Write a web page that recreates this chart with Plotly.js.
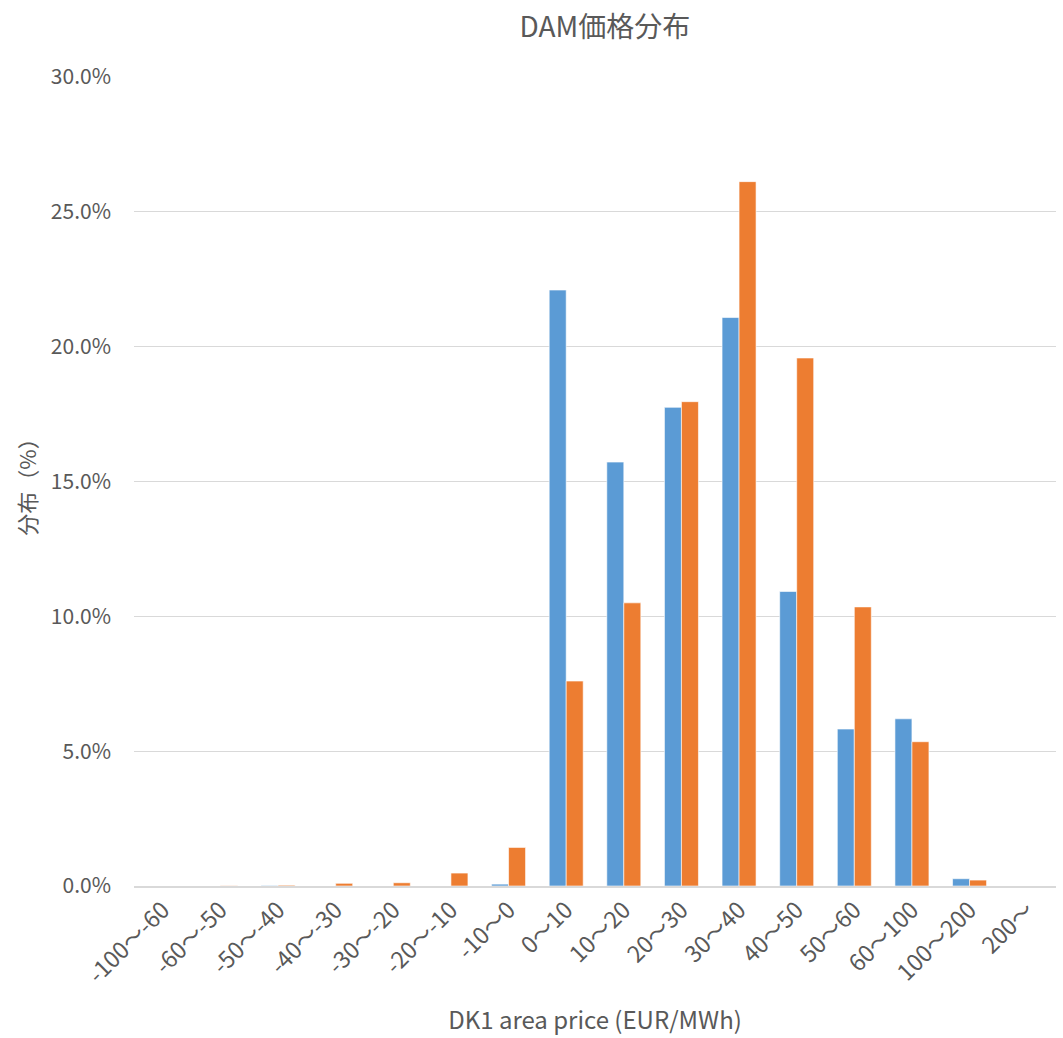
<!DOCTYPE html>
<html>
<head>
<meta charset="utf-8">
<script src="https://cdn.plot.ly/plotly-3.0.1.min.js"></script>
<style>
  html, body { margin: 0; padding: 0; background: #ffffff; }
  #chart { width: 1063px; height: 1038px; }
</style>
</head>
<body>
<div id="chart"></div>
<script>
// Price bands (EUR/MWh)
const priceBands = [
  "-100〜-60", "-60〜-50", "-50〜-40", "-40〜-30", "-30〜-20", "-20〜-10",
  "-10〜0", "0〜10", "10〜20", "20〜30", "30〜40", "40〜50",
  "50〜60", "60〜100", "100〜200", "200〜"
];

// Share of hours in each band (%)
const seriesA = [0.0, 0.0, 0.02, 0.0, 0.0, 0.0, 0.07, 22.1, 15.72, 17.75, 21.08, 10.92, 5.82, 6.2, 0.27, 0.0];
const seriesB = [0.0, 0.01, 0.03, 0.1, 0.12, 0.48, 1.43, 7.6, 10.5, 17.96, 26.12, 19.58, 10.35, 5.35, 0.22, 0.0];

const yTicks = [0, 5, 10, 15, 20, 25, 30];

const textColor = "#595959";
const gridColor = "#D9D9D9";
const fontFamily = "'Noto Sans CJK JP', 'Open Sans', sans-serif";

const traces = [
  {
    type: "bar",
    name: "A",
    x: priceBands,
    y: seriesA,
    marker: { color: "#5B9BD5", line: { color: "#ffffff", width: 0.6 } },
    hoverinfo: "x+y"
  },
  {
    type: "bar",
    name: "B",
    x: priceBands,
    y: seriesB,
    marker: { color: "#ED7D31", line: { color: "#ffffff", width: 0.6 } },
    hoverinfo: "x+y"
  }
];

const layout = {
  width: 1063,
  height: 1038,
  paper_bgcolor: "#ffffff",
  plot_bgcolor: "#ffffff",
  font: { family: fontFamily, color: textColor, size: 21 },
  showlegend: false,
  barmode: "group",
  bargap: 0.41,
  bargroupgap: 0,
  margin: { l: 134, r: 7, t: 77, b: 152, autoexpand: false },
  title: {
    text: "DAM価格分布",
    font: { family: fontFamily, size: 28, color: textColor },
    x: 0.569,
    xref: "container",
    xanchor: "center",
    y: 0.974,
    yref: "container",
    yanchor: "middle"
  },
  xaxis: {
    type: "category",
    tickangle: -45,
    tickfont: { size: 23, color: textColor },
    showgrid: false,
    showline: true,
    linecolor: gridColor,
    linewidth: 1.5,
    ticks: "",
    automargin: false,
    title: {
      text: "DK1 area price (EUR/MWh)",
      font: { size: 24, color: textColor },
      standoff: 24
    },
    fixedrange: true
  },
  yaxis: {
    range: [0, 30],
    tickvals: yTicks,
    ticktext: yTicks.map(v => v.toFixed(1) + "%"),
    tickfont: { size: 21, color: textColor },
    showgrid: true,
    gridcolor: gridColor,
    gridwidth: 1.3,
    zeroline: false,
    showline: false,
    ticks: "",
    ticklabelstandoff: 22,
    automargin: false,
    title: {
      text: "分布（%）",
      font: { size: 22, color: textColor },
      standoff: 8
    },
    fixedrange: true
  }
};

Plotly.newPlot("chart", traces, layout, { displayModeBar: false, staticPlot: true });
</script>
</body>
</html>
